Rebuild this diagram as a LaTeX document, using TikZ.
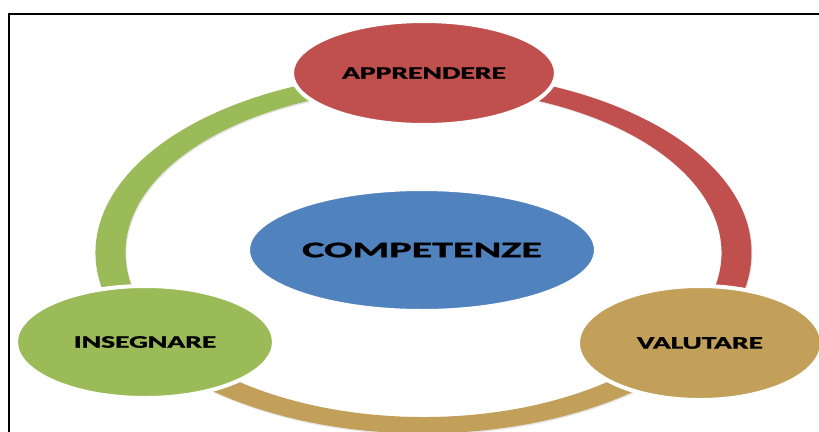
\documentclass[tikz,border=0pt]{standalone}
\usepackage{fontspec}
\usepackage{graphicx}
\usepackage{tikz}
\usetikzlibrary{shapes.geometric,shadows}
\setmainfont{Carlito}
\newfontfamily\labelfont{Carlito Bold}[FakeBold=1.2]

\definecolor{ringred}{RGB}{192,80,77}
\definecolor{ringgreen}{RGB}{155,187,89}
\definecolor{ringgold}{RGB}{195,160,90}
\definecolor{coreblue}{RGB}{80,130,190}
\newcommand{\widetext}[2][1.68]{\scalebox{#1}[1]{#2}}

\begin{document}
\begin{tikzpicture}[x=0.2mm,y=-0.2mm,
    bubble/.style={ellipse,draw=white,line width=0.8mm,inner sep=0pt,
      drop shadow={opacity=0.25,shadow xshift=0.4pt,shadow yshift=-0.8pt},
      font=\fontsize{10}{12}\selectfont\labelfont},
    band shadow/.style={drop shadow={opacity=0.2,shadow xshift=0.5pt,shadow yshift=-0.8pt}}]
\useasboundingbox (0,0) rectangle (819,432);
\fill[white] (0,0) rectangle (819,432);
% frame
\draw[line width=0.44mm] (9,432) -- (9,14) -- (819,14);

% ring, three coloured pieces
\begin{scope}[shift={(423.5,252.6)}]
\foreach \a/\b/\c in {270/391/ringred, 31/149/ringgold, 149/270/ringgreen}
  \fill[\c,band shadow] (\a:328 and 180.8) arc[start angle=\a, end angle=\b, x radius=328, y radius=180.8]
    -- (\b:298 and 164.4) arc[start angle=\b, end angle=\a, x radius=298, y radius=164.4] -- cycle;
\end{scope}

% the four ellipses
\node[bubble,fill=ringred,minimum width=52.8mm,minimum height=20.8mm] (apprendere) at (424,73) {\widetext{APPRENDERE}};
\node[bubble,fill=coreblue,minimum width=69.6mm,minimum height=24.4mm,
  font=\fontsize{12.6}{15}\selectfont\labelfont] (competenze) at (422,250) {\widetext[1.9]{COMPETENZE}};
\node[bubble,fill=ringgreen,minimum width=51.6mm,minimum height=22.4mm] (insegnare) at (145,342) {\widetext{INSEGNARE}};
\node[bubble,fill=ringgold,minimum width=48.8mm,minimum height=22.8mm] (valutare) at (700,343) {\widetext{VALUTARE}};
\end{tikzpicture}
\end{document}
